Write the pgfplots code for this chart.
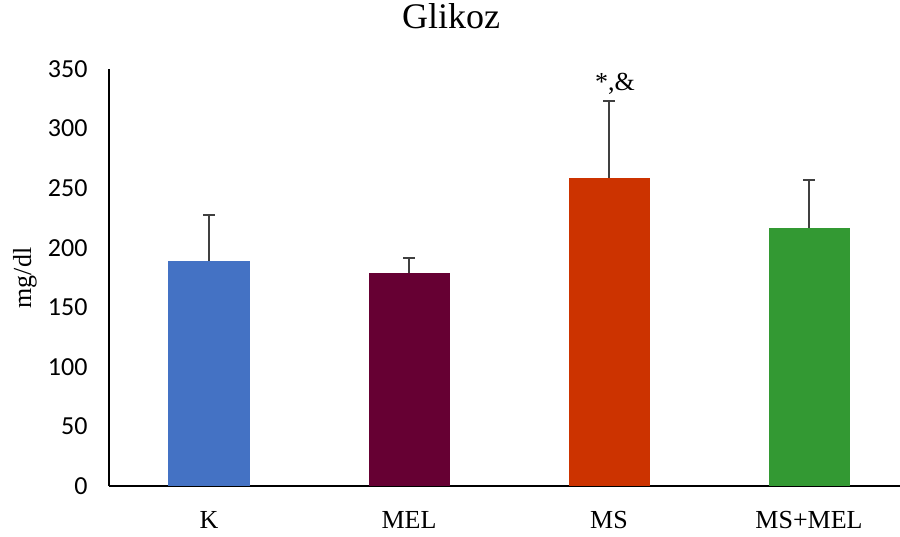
\documentclass[border=0pt]{standalone}
\usepackage{pgfplots}
\pgfplotsset{compat=1.18}
\usepackage{fontspec}
\setmainfont{Liberation Serif}
\newfontfamily\carlito{Carlito}
\definecolor{cK}{HTML}{4472C4}
\definecolor{cMEL}{HTML}{660033}
\definecolor{cMS}{HTML}{CC3300}
\definecolor{cMSMEL}{HTML}{339933}
\definecolor{errc}{HTML}{404040}
\pgfplotsset{myerr/.style={
  error bars/y dir=plus, error bars/y explicit,
  error bars/error bar style={line width=1.5pt, errc},
  error bars/error mark options={rotate=90, mark size=6pt, line width=1.5pt, errc}}}
\begin{document}
\begin{tikzpicture}
\path[use as bounding box] (-109pt,-50pt) rectangle (791pt,486pt);
\begin{axis}[
  at={(0pt,0pt)}, anchor=south west,
  scale only axis, width=791pt, height=417pt,
  xmin=-0.5, xmax=3.455, ymin=0, ymax=350,
  axis x line=bottom, axis y line=left,
  axis line style={-, line width=1.2pt, black},
  xtick={0,1,2,3}, xticklabels={K,MEL,MS,MS+MEL},
  ytick={0,50,100,150,200,250,300,350},
  major tick length=0pt,
  x tick label style={font=\fontsize{26}{26}\selectfont, yshift=-22pt},
  y tick label style={font=\carlito\fontsize{26}{26}\selectfont, xshift=-18pt},
  /pgf/number format/assume math mode=true,
  ylabel={mg/dl},
  ylabel style={at={(-84pt,208pt)}, rotate=0, anchor=center, font=\fontsize{26}{26}\selectfont},
  ybar, bar width=81pt, bar shift=0pt,
]
\addplot[fill=cK, draw=none, myerr] coordinates {(0,188.9) +- (0,38.6)};
\addplot[fill=cMEL, draw=none, myerr] coordinates {(1,178.8) +- (0,12.6)};
\addplot[fill=cMS, draw=none, myerr] coordinates {(2,258.6) +- (0,64.6)};
\addplot[fill=cMSMEL, draw=none, myerr] coordinates {(3,216.6) +- (0,40.4)};
\node[font=\fontsize{26}{26}\selectfont, anchor=south] at (axis cs:2.03,326) {*,\&};
\end{axis}
\node[anchor=base, inner sep=0pt, font=\fontsize{36}{36}\selectfont] at (342pt,457pt) {Glikoz};
\end{tikzpicture}
\end{document}
